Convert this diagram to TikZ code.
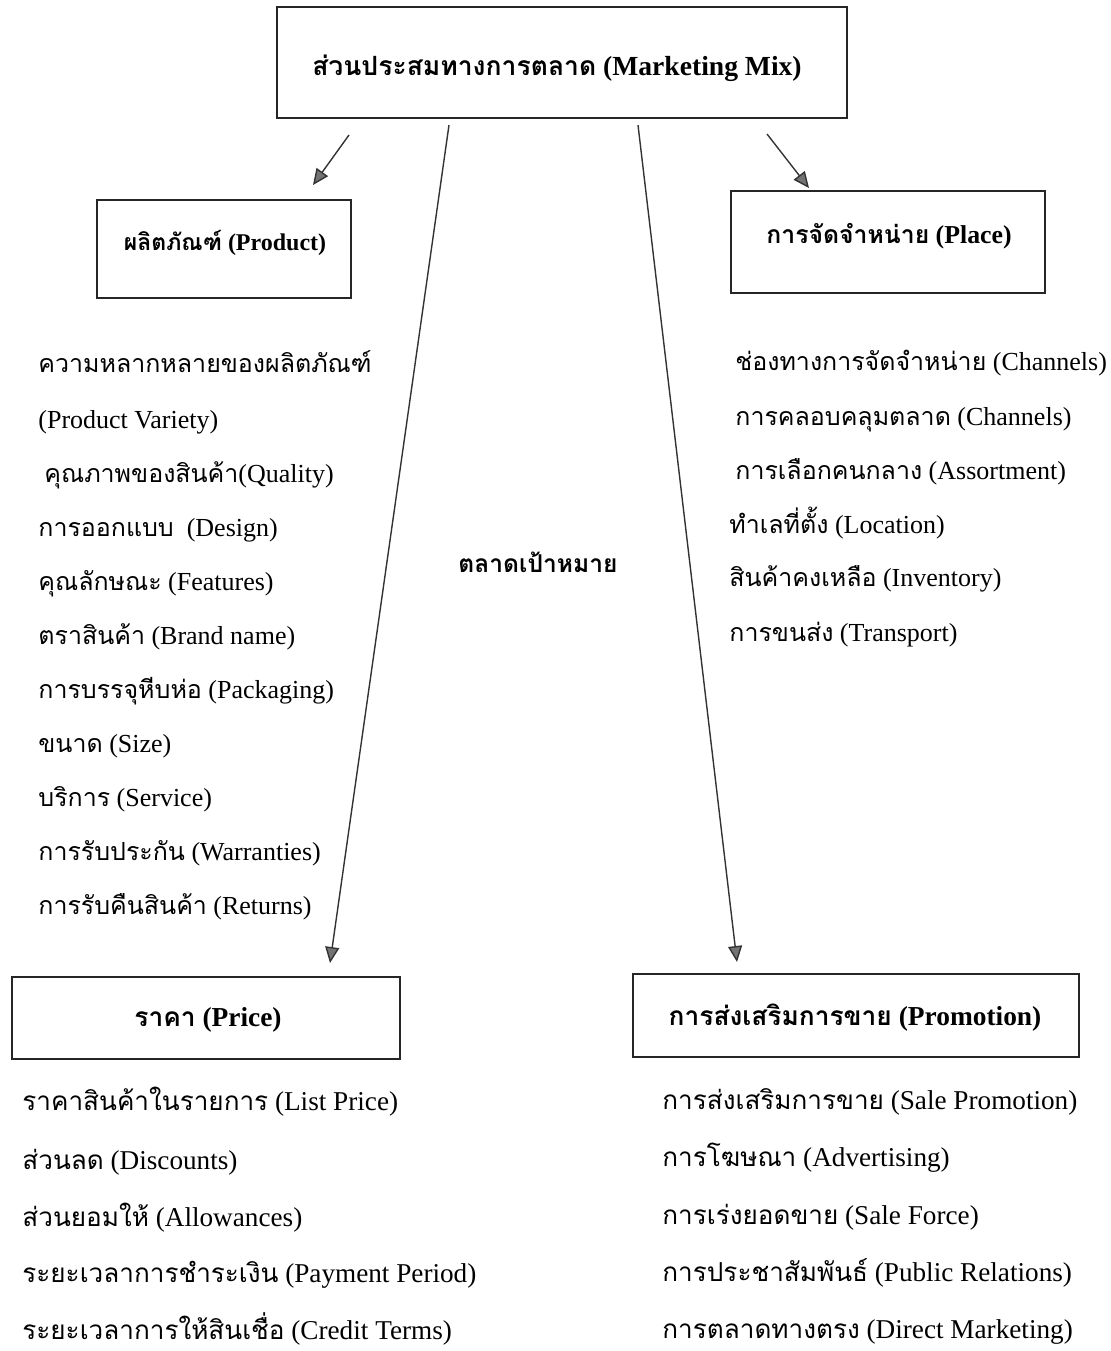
\documentclass[tikz,border=0pt]{standalone}
\usepackage{fontspec}
\setmainfont{Liberation Serif}
\newfontfamily\thaifont[Script=Thai,Scale=0.96]{Loma}
\newcommand\tha[1]{{\thaifont #1}}
\usetikzlibrary{arrows.meta}

\begin{document}
\begin{tikzpicture}[x=0.5pt,y=-0.5pt,
  box/.style={draw=black!85, line width=1pt},
  head/.style={font=\bfseries\fontsize{12}{14}\selectfont},
  item/.style={anchor=west, inner sep=0pt, text height=9pt, text depth=3pt, font=\fontsize{13}{15}\selectfont},
  bitem/.style={item, font=\fontsize{13.6}{16}\selectfont},
  link/.style={draw=black!80, line width=0.7pt, -{Triangle[length=8pt,width=7pt,fill=black!55]}}]
\useasboundingbox (0,0) rectangle (1110,1351);

% boxes
\draw[box] (277,7) rectangle (847,118);
\draw[box] (97,200) rectangle (351,298);
\draw[box] (731,191) rectangle (1045,293);
\draw[box] (12,977) rectangle (400,1059);
\draw[box] (633,974) rectangle (1079,1057);

\node[head, font=\bfseries\fontsize{13.8}{16}\selectfont] (mix) at (557,68) {\tha{ส่วนประสมทางการตลาด} (Marketing Mix)};
\node[head] (product) at (225,243) {\tha{ผลิตภัณฑ์} (Product)};
\node[head, font=\bfseries\fontsize{12.9}{15}\selectfont] (place) at (889,236) {\tha{การจัดจำหน่าย} (Place)};
\node[head, font=\bfseries\fontsize{13.7}{16}\selectfont] (price) at (208,1020) {\tha{ราคา} (Price)};
\node[head, font=\bfseries\fontsize{13.7}{16}\selectfont] (promo) at (855,1018) {\tha{การส่งเสริมการขาย} (Promotion)};

\node[font=\bfseries\fontsize{12.8}{15}\selectfont] (target) at (538,562) {\tha{ตลาดเป้าหมาย}};

% arrows
\coordinate (a1) at (349,135);
\coordinate (a2) at (313,185);
\coordinate (b1) at (767,134);
\coordinate (b2) at (809,188);
\coordinate (c1) at (449,125);
\coordinate (c2) at (330,963);
\coordinate (d1) at (638,125);
\coordinate (d2) at (737,962);
\path[link] (a1) -- (a2);
\path[link] (b1) -- (b2);
\path[link] (c1) -- (c2);
\path[link] (d1) -- (d2);

% product
\node[item] (p1) at (38,366) {\tha{ความหลากหลายของผลิตภัณฑ์}};
\node[item] (p2) at (38,422) {(Product Variety)};
\node[item] (p3) at (44,476) {\tha{คุณภาพของสินค้า}(Quality)};
\node[item] (p4) at (38,530) {\tha{การออกแบบ}\ \ (Design)};
\node[item] (p5) at (38,584) {\tha{คุณลักษณะ} (Features)};
\node[item] (p6) at (38,638) {\tha{ตราสินค้า} (Brand name)};
\node[item] (p7) at (38,692) {\tha{การบรรจุหีบห่อ} (Packaging)};
\node[item] (p8) at (38,746) {\tha{ขนาด} (Size)};
\node[item] (p9) at (38,800) {\tha{บริการ} (Service)};
\node[item] (p10) at (38,854) {\tha{การรับประกัน} (Warranties)};
\node[item] (p11) at (38,908) {\tha{การรับคืนสินค้า} (Returns)};

% place
\node[item] (q1) at (735,364) {\tha{ช่องทางการจัดจำหน่าย} (Channels)};
\node[item] (q2) at (735,419) {\tha{การคลอบคลุมตลาด} (Channels)};
\node[item] (q3) at (735,473) {\tha{การเลือกคนกลาง} (Assortment)};
\node[item] (q4) at (729,527) {\tha{ทำเลที่ตั้ง} (Location)};
\node[item] (q5) at (729,580) {\tha{สินค้าคงเหลือ} (Inventory)};
\node[item] (q6) at (729,635) {\tha{การขนส่ง} (Transport)};

% price
\node[bitem] (r1) at (22,1104) {\tha{ราคาสินค้าในรายการ} (List Price)};
\node[bitem] (r2) at (22,1163) {\tha{ส่วนลด} (Discounts)};
\node[bitem] (r3) at (22,1220) {\tha{ส่วนยอมให้} (Allowances)};
\node[bitem] (r4) at (22,1276) {\tha{ระยะเวลาการชำระเงิน} (Payment Period)};
\node[bitem] (r5) at (22,1333) {\tha{ระยะเวลาการให้สินเชื่อ} (Credit Terms)};

% promotion
\node[bitem] (s1) at (662,1103) {\tha{การส่งเสริมการขาย} (Sale Promotion)};
\node[bitem] (s2) at (662,1160) {\tha{การโฆษณา} (Advertising)};
\node[bitem] (s3) at (662,1218) {\tha{การเร่งยอดขาย} (Sale Force)};
\node[bitem] (s4) at (662,1275) {\tha{การประชาสัมพันธ์} (Public Relations)};
\node[bitem] (s5) at (662,1332) {\tha{การตลาดทางตรง} (Direct Marketing)};
\end{tikzpicture}
\end{document}
